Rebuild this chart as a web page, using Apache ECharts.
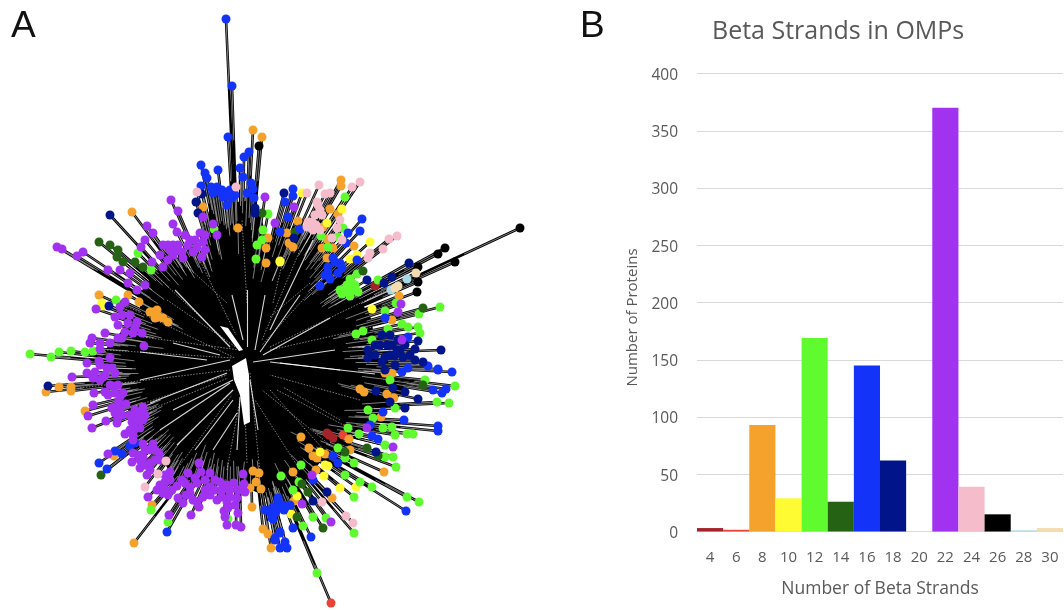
<!DOCTYPE html>
<html><head><meta charset="utf-8">
<script src="https://cdn.jsdelivr.net/npm/echarts@6/dist/echarts.min.js"></script>
<style>html,body{margin:0;padding:0;background:#fff}#c{width:1064px;height:610px;filter:blur(0.55px)}</style>
</head><body><div id="c"></div>
<script>
// Panel B
const strandCategories=['4','6','8','10','12','14','16','18','20','22','24','26','28','30'];
const proteinCounts=[3,1.5,93,29,169,26,145,62,0,370,39,15,1,3];
const strandColors=['#a4232a','#ea4335','#f5a22d','#fffb33','#5ffb2f','#256214','#1433f9','#011489','#ffffff','#a032f0','#f5bccb','#000000','#a8d8e6','#f5dcb0'];
// Panel A: tree tips, one list per strand class
const tips4=[[375,286],[327,433],[333,438],[329,435]];
const tips6=[[343,435],[331,603]];
const tips8=[[253,130],[262,137],[203,207],[238,228],[132,212],[268,238],[266,248],[266,263],[99,295],[128,295],[139,302],[341,180],[341,186],[330,209],[338,214],[323,227],[298,221],[287,233],[289,243],[293,247],[327,239],[322,248],[333,248],[327,258],[354,246],[399,296],[392,320],[46,392],[59,387],[71,387],[71,391],[85,411],[114,456],[152,505],[134,543],[150,312],[157,310],[159,317],[168,322],[152,312],[155,318],[163,318],[253,471],[259,473],[256,482],[250,488],[261,489],[252,507],[263,529],[268,534],[271,548],[392,373],[385,373],[360,389],[364,392],[387,394],[394,398],[381,417],[349,439],[350,450],[384,472],[301,437],[309,448],[313,456],[317,458],[325,454],[293,472],[316,470],[332,498],[294,501]];
const tips10=[[280,262],[102,303],[302,193],[342,209],[327,223],[370,242],[357,255],[350,259],[372,309],[280,261],[103,306],[320,452],[325,465],[328,466],[324,476],[340,488],[356,487],[291,514],[297,496]];
const tips12=[[268,214],[138,253],[151,270],[214,229],[263,230],[262,240],[257,245],[256,259],[116,300],[345,197],[321,236],[328,247],[338,237],[343,228],[440,307],[419,314],[396,303],[385,311],[402,324],[408,327],[418,327],[420,333],[388,329],[363,331],[356,334],[372,340],[378,280],[357,274],[350,279],[347,285],[353,290],[342,294],[350,296],[358,292],[345,290],[352,283],[340,290],[355,285],[30,354],[51,357],[59,352],[71,351],[85,352],[93,351],[151,510],[168,522],[228,519],[455,386],[449,403],[437,402],[425,380],[390,380],[395,408],[368,410],[373,418],[392,427],[383,428],[413,434],[407,434],[395,435],[385,445],[348,428],[359,434],[338,448],[345,458],[354,463],[345,475],[360,482],[372,487],[385,457],[393,457],[396,467],[407,497],[419,502],[354,497],[354,533],[317,573],[301,465],[281,476],[293,490],[313,517],[303,526],[326,518],[299,482]];
const tips14=[[99,242],[110,245],[118,250],[117,257],[123,262],[135,262],[143,267],[262,213],[363,271],[423,308],[295,232],[101,475],[423,385],[367,448],[345,452],[378,456],[302,484],[308,492],[297,517],[323,528]];
const tips16=[[226,19],[232,86],[228,137],[201,165],[205,173],[207,178],[218,170],[249,152],[244,157],[240,168],[243,177],[201,186],[211,187],[217,187],[213,193],[228,192],[223,197],[232,198],[227,205],[215,190],[220,192],[225,195],[230,190],[222,190],[235,195],[251,183],[247,193],[253,189],[254,198],[293,189],[293,196],[285,202],[288,217],[280,232],[300,229],[362,219],[360,231],[348,233],[346,243],[357,260],[333,258],[328,267],[325,275],[340,263],[338,273],[330,279],[320,286],[335,262],[342,268],[328,272],[385,318],[408,337],[428,366],[438,369],[99,463],[107,469],[122,454],[115,451],[130,446],[135,443],[167,532],[273,507],[278,500],[272,518],[275,538],[280,548],[280,533],[282,505],[270,512],[276,512],[284,510],[290,505],[265,510],[452,372],[438,370],[408,368],[402,372],[446,389],[442,393],[433,390],[404,420],[438,431],[438,426],[383,412],[378,439],[372,436],[370,425],[333,456],[338,463],[313,480],[406,511],[293,528],[311,537],[279,507],[285,507],[280,532],[275,540],[285,542],[287,548],[273,519],[278,498]];
const tips18=[[110,215],[202,194],[196,202],[198,213],[255,208],[255,213],[284,193],[409,263],[392,277],[384,283],[367,280],[368,350],[368,358],[441,350],[418,341],[415,349],[382,335],[390,335],[387,345],[397,350],[403,357],[382,362],[385,357],[415,360],[423,362],[375,345],[380,345],[392,345],[398,340],[395,355],[390,355],[400,350],[405,345],[375,355],[395,365],[385,370],[410,355],[294,238],[48,386],[109,306],[418,399],[405,392],[393,388],[376,391],[405,408],[390,402],[376,452],[327,492],[313,501]];
const tips22=[[171,200],[178,211],[265,197],[203,217],[213,224],[217,235],[147,226],[153,233],[173,224],[177,232],[185,235],[200,233],[203,242],[197,247],[188,245],[173,245],[163,245],[145,240],[141,247],[160,255],[173,255],[183,258],[202,257],[152,262],[163,267],[168,245],[178,245],[182,252],[190,240],[195,240],[205,235],[205,250],[178,250],[170,250],[168,260],[193,252],[57,247],[62,249],[83,252],[77,256],[108,270],[120,270],[130,273],[128,283],[145,285],[137,290],[275,223],[125,302],[294,207],[401,304],[398,312],[402,340],[96,309],[120,307],[115,317],[118,325],[128,323],[137,322],[122,315],[130,315],[125,332],[135,328],[118,338],[105,333],[92,338],[90,343],[100,343],[100,349],[110,343],[122,338],[133,333],[142,333],[144,346],[110,358],[99,361],[87,363],[107,368],[115,373],[87,373],[72,377],[93,378],[103,377],[100,365],[105,375],[95,372],[112,368],[100,380],[113,386],[108,395],[123,393],[94,393],[110,385],[118,385],[115,393],[120,397],[105,392],[93,405],[88,416],[118,403],[126,404],[115,413],[106,421],[92,428],[117,423],[120,410],[122,415],[112,408],[118,418],[143,407],[137,415],[143,420],[132,422],[140,428],[125,434],[133,435],[135,410],[140,412],[130,415],[138,420],[135,428],[130,430],[145,415],[133,440],[108,454],[143,444],[153,444],[159,453],[133,453],[132,462],[143,457],[150,463],[140,468],[147,475],[145,450],[150,450],[155,450],[140,460],[150,470],[145,465],[155,460],[138,455],[160,460],[170,472],[165,482],[148,497],[157,490],[163,493],[168,495],[177,486],[165,475],[170,480],[160,485],[165,490],[172,490],[188,473],[199,463],[201,472],[210,473],[243,474],[182,480],[197,483],[210,487],[220,482],[227,485],[234,483],[244,484],[185,483],[190,487],[195,478],[205,480],[205,490],[215,490],[222,490],[215,480],[230,490],[238,490],[190,493],[203,497],[217,500],[227,502],[237,498],[245,492],[193,500],[210,495],[222,497],[230,497],[240,490],[178,498],[186,495],[183,503],[197,502],[199,507],[224,511],[238,513],[228,508],[235,505],[225,517],[191,515],[169,515],[227,525],[236,525],[241,527],[367,428],[393,447],[312,475],[302,504],[331,522]];
const tips24=[[197,192],[236,187],[319,185],[307,193],[325,194],[330,193],[352,187],[360,182],[317,202],[320,210],[312,222],[313,230],[315,215],[318,205],[322,215],[316,225],[308,222],[320,230],[340,220],[337,228],[332,238],[342,240],[397,236],[389,239],[383,249],[370,253],[368,258],[307,227],[166,461],[158,474],[145,487],[322,502],[346,516],[353,523]];
const tips26=[[259,146],[520,228],[445,248],[438,254],[455,262],[418,282],[417,292],[418,267]];
const tips28=[[407,279],[391,290]];
const tips30=[[416,273],[398,286],[395,288]];
const tipClasses=[tips4,tips6,tips8,tips10,tips12,tips14,tips16,tips18,[],tips22,tips24,tips26,tips28,tips30];
// outline of the solid black crown of the tree
const crownOutline=[[210,205],[255,200],[270,245],[300,228],[315,230],[325,250],[348,280],[372,320],[375,353],[405,390],[388,408],[368,422],[335,445],[295,492],[270,498],[233,482],[177,485],[160,455],[140,435],[128,410],[108,388],[108,357],[105,350],[140,310],[140,293],[155,272],[195,245],[200,262]];
// bright gaps between clades
const cladeGaps=[[140,380,230,360],[150,403,227,373],[173,410,233,380],[160,430,230,383],[177,445,233,390],[195,450,233,400],[213,450,237,413],[173,343,220,355],[140,352,207,360],[175,290,230,347],[247,290,247,347],[232,295,243,340],[265,295,255,350],[300,295,260,352],[330,318,263,355],[335,350,253,362],[340,370,280,363],[258,430,250,380],[240,397,237,450],[270,362,375,374],[270,330,313,240]];
// fainter hatched gaps
const hatchGaps=[[143,337,240,350],[107,350,233,358],[80,388,230,370],[133,407,227,375],[227,470,240,400],[247,463,245,413],[260,473,250,373],[167,300,240,350],[277,390,353,430],[270,390,333,460],[270,347,393,287],[270,350,417,317],[270,317,310,283],[247,303,242,220],[273,303,283,260],[177,257,227,303],[103,295,235,358],[340,420,283,387],[150,270,225,340],[190,240,236,335],[300,250,262,340],[330,270,262,345],[360,400,270,375],[330,445,262,390],[300,470,255,400],[180,465,232,395],[125,420,228,378]];
// white heart of the tree and its wedge
const heartOutline=[[246,358],[232,366],[234,380],[240,395],[244,425],[250,422],[249,375]];
const wedgeOutline=[[220,326],[228,328],[243,350],[239,351]];

function hub(t){
  if(t[1]<=350) return [241,358];
  if(t[0]<242) return t[1]>490?[238,408]:[232,372];
  return t[1]<400?[250,362]:[250,412];
}
const allTips=tipClasses.flat();
const branchData=allTips.map(t=>({coords:[hub(t),t]}));
const coreLine=allTips.map(t=>{const h=hub(t);const m=[h[0]+(t[0]-h[0])*0.8,h[1]+(t[1]-h[1])*0.8];return {coords:[m,t]};});
const seg=a=>a.map(s=>({coords:[[s[0],s[1]],[s[2],s[3]]]}));
const lineSeries=(data,color,width,op,type)=>({type:'lines',coordinateSystem:'cartesian2d',xAxisIndex:0,yAxisIndex:0,polyline:false,silent:true,animation:false,symbol:'none',lineStyle:{color:color,width:width,opacity:op,curveness:0,type:type||'solid'},data:data});
const polySeries=(outline,color)=>({type:'custom',coordinateSystem:'cartesian2d',xAxisIndex:0,yAxisIndex:0,silent:true,animation:false,data:[0],
  renderItem:(p,api)=>({type:'polygon',shape:{points:outline.map(q=>api.coord(q))},style:{fill:color}})});
const tipSeries=tipClasses.map((d,i)=>({type:'scatter',xAxisIndex:0,yAxisIndex:0,data:d,symbolSize:9,silent:true,animation:false,itemStyle:{color:strandColors[i],opacity:1}})).filter(s=>s.data.length);

const txt='#595959', font='"Open Sans","Noto Sans",sans-serif';
const chart=echarts.init(document.getElementById('c'),null,{renderer:'canvas'});
chart.setOption({
  animation:false,backgroundColor:'#fff',
  title:[
    {text:'A',left:6,top:3,textStyle:{fontFamily:'"Liberation Sans",sans-serif',fontSize:37,fontWeight:'normal',color:'#111'}},
    {text:'B',left:575,top:3,textStyle:{fontFamily:'"Liberation Sans",sans-serif',fontSize:37,fontWeight:'normal',color:'#111'}},
    {text:'Beta Strands in OMPs',left:707,top:14,textStyle:{fontFamily:font,fontSize:25,fontWeight:'normal',color:txt}}
  ],
  grid:[{left:0,top:0,width:560,height:610},{left:697,top:73.5,width:366,height:458}],
  xAxis:[
    {gridIndex:0,type:'value',min:0,max:560,show:false},
    {gridIndex:1,type:'category',data:strandCategories,axisTick:{show:false},axisLine:{lineStyle:{color:'#d9d9d9'}},
     axisLabel:{color:txt,fontSize:15,fontFamily:font,margin:19,interval:0},
     name:'Number of Beta Strands',nameLocation:'middle',nameGap:49,nameTextStyle:{color:txt,fontSize:17.5,fontFamily:font}}
  ],
  yAxis:[
    {gridIndex:0,type:'value',min:0,max:610,inverse:true,show:false},
    {gridIndex:1,type:'value',min:0,max:400,interval:50,axisLine:{show:false},axisTick:{show:false},splitLine:{lineStyle:{color:'#d9d9d9'}},
     axisLabel:{color:txt,fontSize:15.5,fontFamily:font,margin:19,verticalAlign:'top',lineHeight:15,padding:[-5.5,0,0,0]},
     name:'Number of Proteins',nameLocation:'middle',nameGap:57,nameTextStyle:{color:txt,fontSize:15,fontFamily:font,padding:[0,30,0,0]}}
  ],
  series:[
    lineSeries(branchData,'#000',2.6,1),
    polySeries(crownOutline,'#000'),
    lineSeries(coreLine,'#fff',0.7,0.7),
    lineSeries(seg(hatchGaps),'#fff',1,0.5,[1.5,1.5]),
    lineSeries(seg(cladeGaps),'#fff',1.1,0.85),
    polySeries(heartOutline,'#fff'),
    polySeries(wedgeOutline,'#fff'),
    ...tipSeries,
    {type:'bar',xAxisIndex:1,yAxisIndex:1,barWidth:'100%',barCategoryGap:'0%',animation:false,silent:true,
     data:proteinCounts.map((v,i)=>({value:v,itemStyle:{color:strandColors[i]}}))}
  ]
});
</script></body></html>
